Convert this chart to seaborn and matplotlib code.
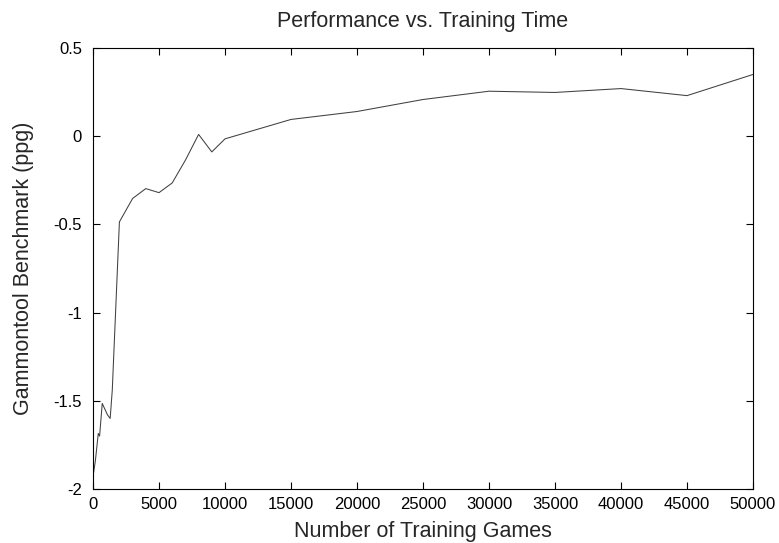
import matplotlib
matplotlib.use("Agg")
import matplotlib.pyplot as plt
import matplotlib.ticker as mticker
import seaborn as sns
import pandas as pd

games = [0, 180, 400, 500, 700, 1100, 1300, 1460, 2000, 3000, 4000, 5000, 6000,
         7000, 8000, 9000, 10000, 15000, 20000, 25000, 30000, 35000, 40000, 45000, 50000]
benchmark = [-1.93, -1.84, -1.685, -1.70, -1.515, -1.58, -1.60, -1.44, -0.486, -0.353,
             -0.297, -0.32, -0.265, -0.136, 0.01, -0.089, -0.015, 0.095, 0.14, 0.208,
             0.255, 0.248, 0.27, 0.23, 0.35]
x_ticks = list(range(0, 50001, 5000))
y_ticks = [-2, -1.5, -1, -0.5, 0, 0.5]

df = pd.DataFrame({"games": games, "benchmark": benchmark})

sns.set_style("ticks")
plt.rcParams["font.family"] = ["Liberation Sans", "DejaVu Sans"]

fig = plt.figure(figsize=(7.79, 5.43), dpi=100)
ax = fig.add_axes([93 / 779, 1 - 489 / 543, (753 - 93) / 779, (489 - 48) / 543])

sns.lineplot(data=df, x="games", y="benchmark", ax=ax, color="#404040", linewidth=0.75)

ax.set_xlim(0, 50000)
ax.set_ylim(-2, 0.5)
ax.set_xticks(x_ticks)
ax.set_yticks(y_ticks)
ax.xaxis.set_major_formatter(mticker.FuncFormatter(lambda v, p: f"{v:g}"))
ax.yaxis.set_major_formatter(mticker.FuncFormatter(lambda v, p: f"{v:g}"))
ax.tick_params(direction="in", length=5, width=0.8, top=True, right=True,
               labelsize=12, colors="black")
ax.tick_params(axis="x", pad=6)
ax.tick_params(axis="y", pad=8)
for s in ax.spines.values():
    s.set_visible(True)
    s.set_linewidth(0.8)
    s.set_color("black")

ax.set_xlabel("Number of Training Games", fontsize=15.5, labelpad=6)
ax.set_ylabel("Gammontool Benchmark (ppg)", fontsize=15.5, labelpad=14)
ax.set_title("Performance vs. Training Time", fontsize=15.5, pad=15)

fig.savefig("out.png", dpi=100)
